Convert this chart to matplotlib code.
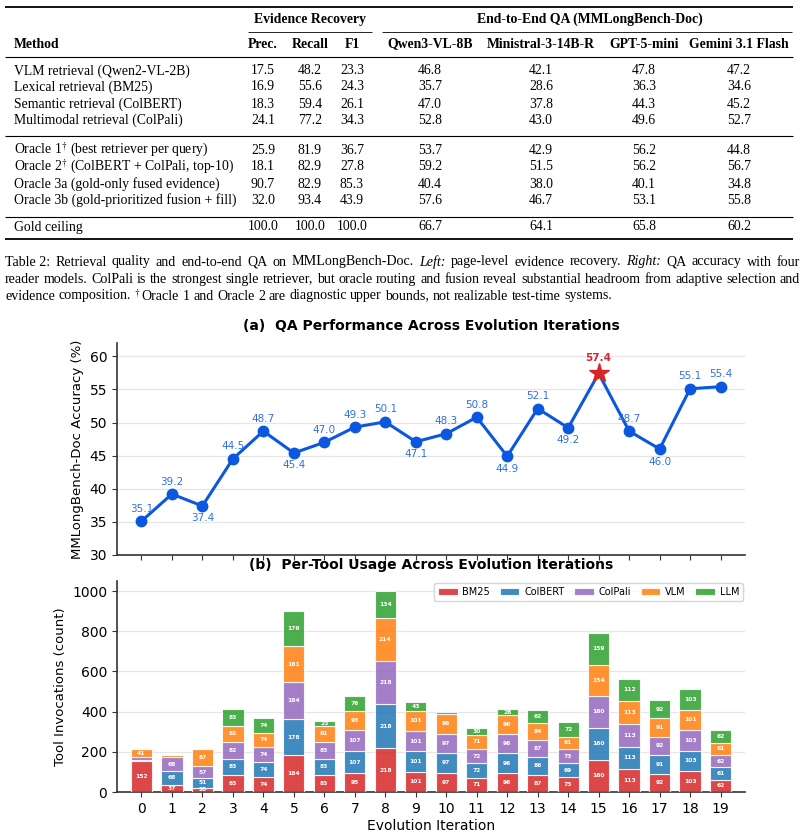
import matplotlib
matplotlib.use('Agg')
import matplotlib.pyplot as plt
import numpy as np
from matplotlib.lines import Line2D

plt.rcParams['mathtext.fontset'] = 'stix'
plt.rcParams['font.family'] = ['DejaVu Sans']

# ---------------- data ----------------
methods = ["VLM retrieval (Qwen2-VL-2B)", "Lexical retrieval (BM25)",
           "Semantic retrieval (ColBERT)", "Multimodal retrieval (ColPali)",
           r"Oracle 1$^{\dagger}$ (best retriever per query)",
           r"Oracle 2$^{\dagger}$ (ColBERT + ColPali, top-10)",
           "Oracle 3a (gold-only fused evidence)",
           "Oracle 3b (gold-prioritized fusion + fill)",
           "Gold ceiling"]
prec = ["17.5", "16.9", "18.3", "24.1", "25.9", "18.1", "90.7", "32.0", "100.0"]
recall = ["48.2", "55.6", "59.4", "77.2", "81.9", "82.9", "82.9", "93.4", "100.0"]
f1 = ["23.3", "24.3", "26.1", "34.3", "36.7", "27.8", "85.3", "43.9", "100.0"]
qwen = ["46.8", "35.7", "47.0", "52.8", "53.7", "59.2", "40.4", "57.6", "66.7"]
ministral = ["42.1", "28.6", "37.8", "43.0", "42.9", "51.5", "38.0", "46.7", "64.1"]
gpt = ["47.8", "36.3", "44.3", "49.6", "56.2", "56.2", "40.1", "53.1", "65.8"]
gemini = ["47.2", "34.6", "45.2", "52.7", "44.8", "56.7", "34.8", "55.8", "60.2"]
col_headers = ["Prec.", "Recall", "F1", "Qwen3-VL-8B", "Ministral-3-14B-R",
               "GPT-5-mini", "Gemini 3.1 Flash"]

iterations = list(range(20))
accuracy = [35.1, 39.2, 37.4, 44.5, 48.7, 45.4, 47.0, 49.3, 50.1, 47.1,
            48.3, 50.8, 44.9, 52.1, 49.2, 57.4, 48.7, 46.0, 55.1, 55.4]

tool_names = ["BM25", "ColBERT", "ColPali", "VLM", "LLM"]
bm25 = [152, 37, 20, 83, 74, 184, 83, 95, 218, 101, 97, 71, 96, 87, 73, 160, 113, 92, 103, 62]
colbert = [8, 68, 51, 83, 74, 178, 83, 107, 218, 101, 97, 72, 96, 86, 69, 160, 113, 91, 103, 61]
colpali = [13, 68, 57, 82, 74, 184, 83, 107, 218, 101, 97, 72, 96, 87, 73, 160, 113, 92, 103, 62]
vlm = [41, 10, 87, 82, 74, 181, 81, 93, 214, 101, 96, 71, 96, 84, 61, 154, 113, 91, 101, 61]
llm = [0, 0, 0, 83, 74, 176, 23, 76, 134, 43, 10, 30, 28, 62, 72, 159, 112, 92, 103, 62]

caption_lines = [
    [("Table 2:", "n"), ("Retrieval", "n"), ("quality", "n"), ("and", "n"), ("end-to-end", "n"),
     ("QA", "n"), ("on", "n"), ("MMLongBench-Doc.", "n"), ("Left:", "i"), ("page-level", "n"),
     ("evidence", "n"), ("recovery.", "n"), ("Right:", "i"), ("QA", "n"), ("accuracy", "n"),
     ("with", "n"), ("four", "n")],
    [("reader", "n"), ("models.", "n"), ("ColPali", "n"), ("is", "n"), ("the", "n"), ("strongest", "n"),
     ("single", "n"), ("retriever,", "n"), ("but", "n"), ("oracle", "n"), ("routing", "n"), ("and", "n"),
     ("fusion", "n"), ("reveal", "n"), ("substantial", "n"), ("headroom", "n"), ("from", "n"),
     ("adaptive", "n"), ("selection", "n"), ("and", "n")],
    [("evidence", "n"), ("composition.", "n"), (r"$^{\dagger}$", "n"), ("Oracle", "n"), ("1", "n"),
     ("and", "n"), ("Oracle", "n"), ("2", "n"), ("are", "n"), ("diagnostic", "n"), ("upper", "n"),
     ("bounds,", "n"), ("not", "n"), ("realizable", "n"), ("test-time", "n"), ("systems.", "n")],
]

# ---------------- figure ----------------
W, H = 806, 839
fig = plt.figure(figsize=(W / 100, H / 100), dpi=100)
fig.patch.set_facecolor('white')


def fx(x):
    return x / W


def fy(y):
    return 1 - y / H


SERIF = 'Liberation Serif'
TS = 9.9


def rule(y, x0, x1, lw):
    fig.add_artist(Line2D([fx(x0), fx(x1)], [fy(y), fy(y)], transform=fig.transFigure,
                          color='black', lw=lw, solid_capstyle='butt'))


# table rules
rule(7, 5, 793, 1.3)
rule(32, 248, 372, 0.6)
rule(32, 382, 792, 0.6)
rule(57, 5, 793, 0.8)
rule(136, 5, 793, 0.8)
rule(217, 5, 793, 0.8)
rule(239, 5, 793, 1.3)

fig.text(fx(310), fy(19), "Evidence Recovery", family=SERIF, weight='bold', size=TS,
         ha='center', va='center')
fig.text(fx(590), fy(19), "End-to-End QA (MMLongBench-Doc)", family=SERIF, weight='bold',
         size=TS, ha='center', va='center')
fig.text(fx(14), fy(44), "Method", family=SERIF, weight='bold', size=TS, ha='left', va='center')
col_x = [263, 310, 352, 430, 541, 644, 739]
for cx, h in zip(col_x, col_headers):
    fig.text(fx(cx), fy(44), h, family=SERIF, weight='bold', size=TS, ha='center', va='center')

row_y = [71, 87, 104, 120, 150, 167, 184, 200, 227]
cols = [prec, recall, f1, qwen, ministral, gpt, gemini]
for r, yy in enumerate(row_y):
    fig.text(fx(14), fy(yy), methods[r], family=SERIF, size=TS, ha='left', va='center')
    for cx, col in zip(col_x, cols):
        fig.text(fx(cx), fy(yy), col[r], family=SERIF, size=TS, ha='center', va='center')

# caption, justified with auto-fitted font size
renderer = fig.canvas.get_renderer()
cap_y = [262, 279, 296]
x_left, x_right = 5, 800


def measure(word, st, size):
    t = fig.text(0, 0, word, family=SERIF, size=size,
                 style='italic' if st == 'i' else 'normal')
    w = t.get_window_extent(renderer).width
    t.remove()
    return w


CS0 = 10.0
space0 = CS0 * 100 / 72 * 0.25
ratios = []
for line in caption_lines[:-1]:
    nat = sum(measure(wd, st, CS0) for wd, st in line) + space0 * (len(line) - 1)
    ratios.append((x_right - x_left) / nat)
CS = CS0 * min(ratios) * 0.995

for li, (line, yy) in enumerate(zip(caption_lines, cap_y)):
    texts = []
    widths = []
    for word, st in line:
        t = fig.text(0, fy(yy), word, family=SERIF, size=CS,
                     style='italic' if st == 'i' else 'normal', ha='left', va='center')
        texts.append(t)
        widths.append(t.get_window_extent(renderer).width)
    if li < len(caption_lines) - 1:
        gap = (x_right - x_left - sum(widths)) / (len(widths) - 1)
    else:
        gap = CS * 100 / 72 * 0.25
    x = x_left
    for k, (t, w) in enumerate(zip(texts, widths)):
        t.set_x(fx(x))
        # no space after superscript dagger
        if line[k][0].startswith('$'):
            x += w + 1
        else:
            x += w + gap

# ---------------- panel (a) ----------------
LINE = '#0b57e0'
LBL = '#2f6fe6'
RED = '#d62728'
SPINE = '#333333'

ax1 = fig.add_axes([fx(117), fy(555), (745 - 117) / W, (555 - 343) / H])
x = np.array(iterations)
acc = np.array(accuracy)
best = int(np.argmax(acc))
ax1.plot(x, acc, '-', color=LINE, lw=2.2, zorder=3)
mask = x != best
ax1.plot(x[mask], acc[mask], 'o', color=LINE, ms=7.5, zorder=4)
ax1.plot([x[best]], [acc[best]], marker='*', ms=15, color=RED, ls='none', zorder=5)
n = len(acc)
for i, v in enumerate(acc):
    below = 0 < i < n - 1 and v < acc[i - 1] and v < acc[i + 1]
    dy = -9 if below else 9
    if i == best:
        ax1.annotate(f"{v:.1f}", (i, v), xytext=(0, 11), textcoords='offset points',
                     ha='center', va='center', fontsize=7.5, color=RED, fontweight='bold')
    else:
        ax1.annotate(f"{v:.1f}", (i, v), xytext=(0, dy), textcoords='offset points',
                     ha='center', va='center', fontsize=7.5, color=LBL)
ax1.set_xlim(-0.8, 19.8)
ax1.set_ylim(30, 62)
ax1.set_yticks(range(30, 61, 5))
ax1.set_xticks(iterations)
ax1.set_xticklabels([])
ax1.set_ylabel("MMLongBench-Doc Accuracy (%)", fontsize=9.5)
ax1.set_title("(a)  QA Performance Across Evolution Iterations", fontweight='bold',
              fontsize=10, pad=9)
ax1.grid(axis='y', color='#e6e6e6', lw=0.9)
ax1.set_axisbelow(True)
for s in ['top', 'right']:
    ax1.spines[s].set_visible(False)
for s in ['left', 'bottom']:
    ax1.spines[s].set_color(SPINE)
    ax1.spines[s].set_linewidth(1.2)
ax1.tick_params(labelsize=10, color=SPINE)

# ---------------- panel (b) ----------------
ax2 = fig.add_axes([fx(117), fy(792), (745 - 117) / W, (792 - 581) / H])
series = [bm25, colbert, colpali, vlm, llm]
colors = ['#d62728', '#1f77b4', '#9467bd', '#ff7f0e', '#2ca02c']
bottom = np.zeros(len(iterations))
for name, vals, c in zip(tool_names, series, colors):
    vals = np.array(vals, dtype=float)
    ax2.bar(x, vals, 0.7, bottom=bottom, color=c, alpha=0.85, edgecolor='white',
            linewidth=0.8, label=name, zorder=3)
    for xi, b, v in zip(x, bottom, vals):
        if v >= 15:
            ax2.text(xi, b + v / 2, f"{int(v)}", ha='center', va='center', fontsize=4.3,
                     color='white', fontweight='bold', zorder=4)
    bottom += vals
ax2.set_xlim(-0.8, 19.8)
ax2.set_ylim(0, 1050)
ax2.set_yticks(range(0, 1001, 200))
ax2.set_xticks(iterations)
ax2.set_xlabel("Evolution Iteration", fontsize=10, labelpad=2)
ax2.set_ylabel("Tool Invocations (count)", fontsize=9.5)
ax2.set_title("(b)  Per-Tool Usage Across Evolution Iterations", fontweight='bold',
              fontsize=10, pad=9)
ax2.grid(axis='y', color='#e6e6e6', lw=0.9)
ax2.set_axisbelow(True)
for s in ['top', 'right']:
    ax2.spines[s].set_visible(False)
for s in ['left', 'bottom']:
    ax2.spines[s].set_color(SPINE)
    ax2.spines[s].set_linewidth(1.2)
ax2.tick_params(labelsize=10, color=SPINE)
ax2.legend(loc='upper right', ncol=5, fontsize=7, frameon=True, handlelength=2.0,
           columnspacing=1.0, borderaxespad=0.2, handletextpad=0.5)

fig.savefig('out.png', dpi=100, facecolor='white')
